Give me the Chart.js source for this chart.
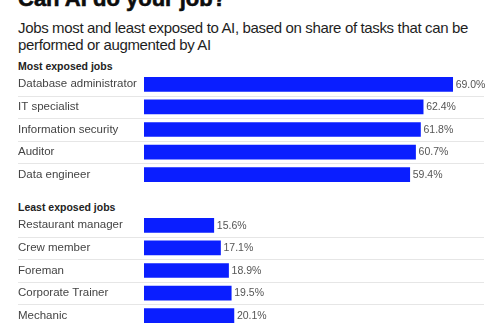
<!DOCTYPE html>
<html>
<head>
<meta charset="utf-8">
<script src="https://cdn.jsdelivr.net/npm/chart.js@4.4.0/dist/chart.umd.min.js"></script>
<style>
  html, body { margin: 0; padding: 0; background: #fff; }
  body { width: 500px; height: 330px; position: relative; overflow: hidden; font-family: "Liberation Sans", Arial, sans-serif; }
  .title { position: absolute; left: 18px; top: -12px; font-size: 22px; line-height: 22px; font-weight: bold; color: #0d0d0d; white-space: nowrap; -webkit-text-stroke: 0.6px #0d0d0d; }
  .sub { position: absolute; left: 18px; top: 19px; font-size: 15px; line-height: 17px; color: #1e1e1e; letter-spacing: -0.35px; width: 470px; }
  .head { position: absolute; left: 18px; font-size: 10.5px; font-weight: bold; color: #222; }
  canvas { position: absolute; left: 18px; }
</style>
</head>
<body>
<div class="title">Can AI do your job?</div>
<div class="sub">Jobs most and least exposed to AI, based on share of tasks that can be performed or augmented by AI</div>
<div class="head" style="top:60px">Most exposed jobs</div>
<div class="head" style="top:201px">Least exposed jobs</div>
<canvas id="topChart" width="482" height="113" style="top:73px"></canvas>
<canvas id="bottomChart" width="482" height="113" style="top:214px"></canvas>
<script>
// data
const mostJobs = ['Database administrator', 'IT specialist', 'Information security', 'Auditor', 'Data engineer'];
const mostShare = [69.0, 62.4, 61.8, 60.7, 59.4];
const leastJobs = ['Restaurant manager', 'Crew member', 'Foreman', 'Corporate Trainer', 'Mechanic'];
const leastShare = [15.6, 17.1, 18.9, 19.5, 20.1];

const barBlue = '#0a1eff';

// thin grey rules between rows, from the label column to the plot's right edge
const rowRules = {
    id: 'rowRules',
    beforeDatasetsDraw(chart) {
        const ctx = chart.ctx;
        const y = chart.scales.y;
        ctx.save();
        ctx.strokeStyle = '#e6e6e6';
        ctx.lineWidth = 1;
        for (let i = 0; i < chart.data.labels.length - 1; i++) {
            const yy = Math.round((y.getPixelForValue(i) + y.getPixelForValue(i + 1)) / 2) + 0.5;
            ctx.beginPath();
            ctx.moveTo(0, yy);
            ctx.lineTo(chart.chartArea.right, yy);
            ctx.stroke();
        }
        ctx.restore();
    }
};

// value labels at the end of each bar
const valueLabels = {
    id: 'valueLabels',
    afterDatasetsDraw(chart) {
        const ctx = chart.ctx;
        const meta = chart.getDatasetMeta(0);
        ctx.save();
        ctx.font = '10.5px "Liberation Sans", Arial, sans-serif';
        ctx.fillStyle = '#555';
        ctx.textBaseline = 'middle';
        ctx.textAlign = 'left';
        meta.data.forEach((bar, i) => {
            const v = chart.data.datasets[0].data[i];
            ctx.fillText(v.toFixed(1) + '%', bar.x + 3, bar.y + 0.5);
        });
        ctx.restore();
    }
};

function makeChart(id, labels, values) {
    const ctx = document.getElementById(id).getContext('2d');
    return new Chart(ctx, {
        type: 'bar',
        data: {
            labels: labels,
            datasets: [{
                data: values,
                backgroundColor: barBlue,
                barThickness: 14
            }]
        },
        options: {
            indexAxis: 'y',
            responsive: false,
            animation: false,
            layout: { padding: { right: 16 } },
            plugins: { legend: { display: false }, tooltip: { enabled: false } },
            scales: {
                x: { display: false, min: 0, max: 76 },
                y: {
                    grid: { display: false },
                    border: { display: false },
                    afterFit(scale) {
                        scale.width = 126;
                        scale.paddingTop = 0;
                        scale.paddingBottom = 0;
                    },
                    ticks: {
                        crossAlign: 'far',
                        padding: 0,
                        color: '#444',
                        font: { size: 11.5, family: '"Liberation Sans", Arial, sans-serif' }
                    }
                }
            }
        },
        plugins: [rowRules, valueLabels]
    });
}

makeChart('topChart', mostJobs, mostShare);
makeChart('bottomChart', leastJobs, leastShare);
</script>
</body>
</html>
